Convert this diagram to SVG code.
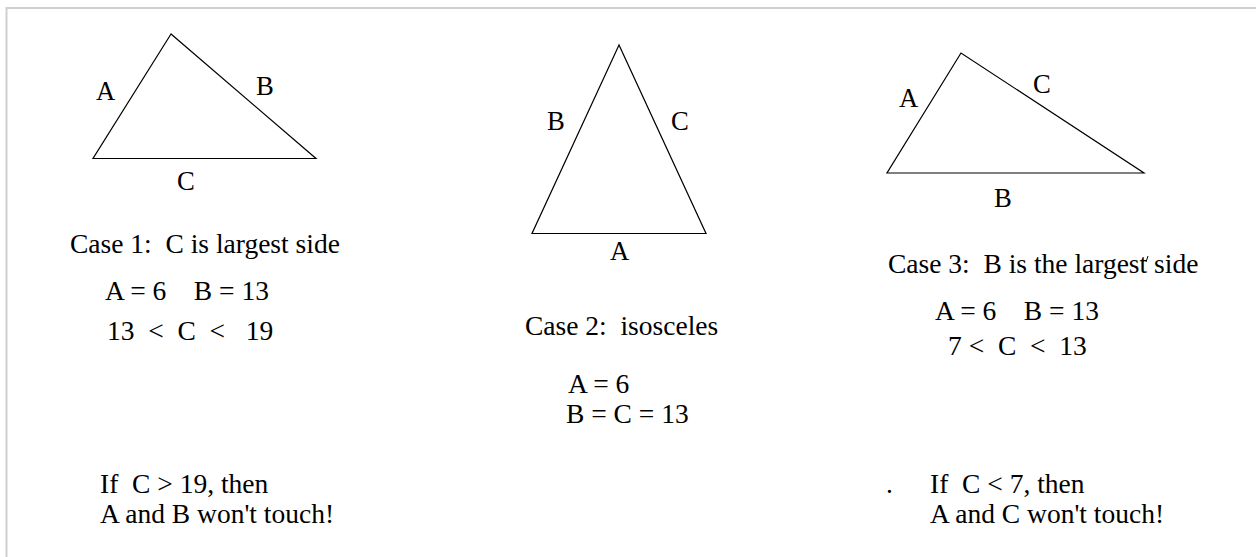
<svg xmlns="http://www.w3.org/2000/svg" width="1256" height="557" viewBox="0 0 1256 557">
<style>
text{font-family:"Liberation Serif","Times New Roman",serif;font-size:27.5px;fill:#000;white-space:pre}
.lbl{font-size:26.67px}
.tri{fill:none;stroke:#000;stroke-width:1.2}
.frame{fill:none;stroke:#cfcfcf;stroke-width:2}
</style>
<rect x="0" y="0" width="1256" height="557" fill="#fff"/>
<path class="frame" d="M6.5,557 V8 H1256"/>
<g id="triangle1">
<polygon class="tri" points="171,34 93,158.5 316,158.5"/>
<text class="lbl" x="96" y="100">A</text>
<text class="lbl" x="256" y="95">B</text>
<text class="lbl" x="177" y="190">C</text>
</g>
<g id="triangle2">
<polygon class="tri" points="619,45 532,233.5 706,233.5"/>
<text class="lbl" x="547" y="130">B</text>
<text class="lbl" x="671" y="130">C</text>
<text class="lbl" x="610" y="260">A</text>
</g>
<g id="triangle3">
<polygon class="tri" points="961,53 887,173 1144,173"/>
<text class="lbl" x="899" y="107">A</text>
<text class="lbl" x="1033" y="93">C</text>
<text class="lbl" x="994" y="207">B</text>
</g>
<g id="case1">
<text x="70" y="253">Case 1:  C is largest side</text>
<text x="105" y="300">A = 6    B = 13</text>
<text x="107" y="340">13  &lt;  C  &lt;   19</text>
</g>
<g id="case2">
<text x="525" y="335">Case 2:  isosceles</text>
<text x="568" y="393">A = 6</text>
<text x="566" y="423">B = C = 13</text>
</g>
<g id="case3">
<text x="888" y="273">Case 3:  B is the largest side</text>
<line x1="1146" y1="262" x2="1148" y2="256" stroke="#000" stroke-width="1"/>
<text x="935" y="320">A = 6    B = 13</text>
<text x="948" y="355">7 &lt;  C  &lt;  13</text>
</g>
<g id="note1">
<text x="100" y="493">If  C &gt; 19, then</text>
<text x="100" y="523">A and B won't touch!</text>
</g>
<g id="note3">
<text x="886" y="493">.</text>
<text x="930" y="493">If  C &lt; 7, then</text>
<text x="930" y="523">A and C won't touch!</text>
</g>
<g id="connectors"></g>
</svg>
